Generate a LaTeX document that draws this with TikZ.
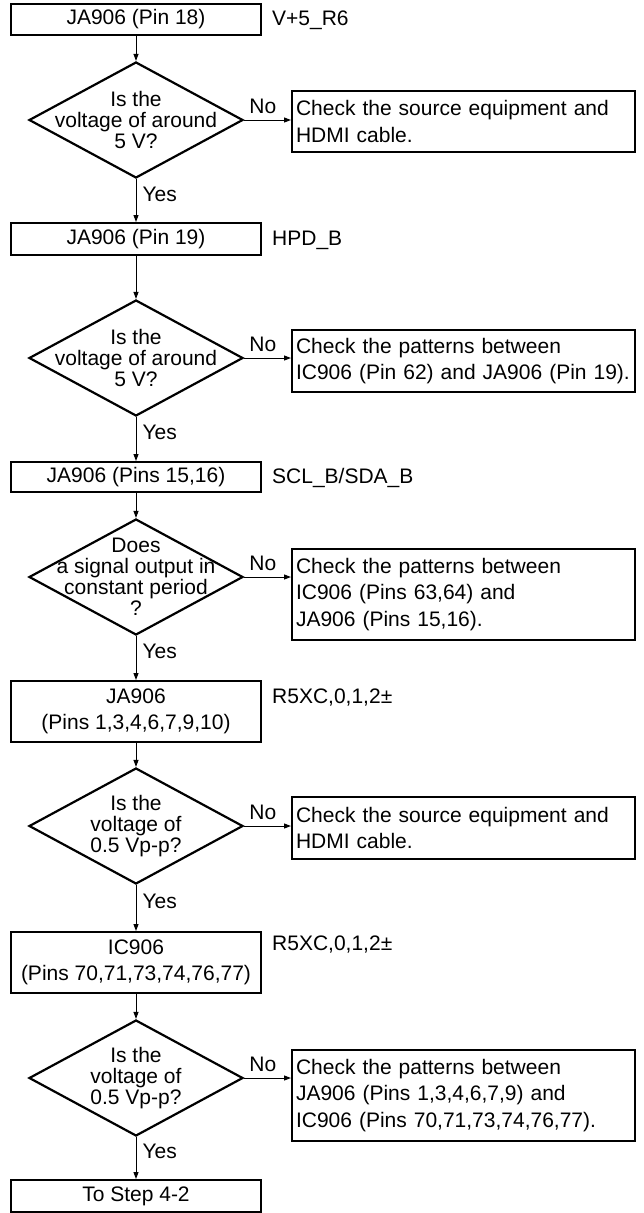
\documentclass[tikz,border=0pt]{standalone}
\usepackage{fontspec}
\setmainfont{Liberation Sans}
\usetikzlibrary{shapes.geometric,arrows.meta}
\begin{document}
\begin{tikzpicture}[x=1pt,y=-1pt,
  font=\fontsize{21}{26.5}\selectfont,
  mainbox/.style={draw,line width=2pt,minimum width=250pt,inner sep=0pt,align=center},
  dia/.style={draw,diamond,line width=2.2pt,minimum width=214pt,minimum height=116pt,inner sep=0pt},
  diatext/.style={align=center,font=\fontsize{21}{21}\selectfont,inner sep=0pt},
  checkbox/.style={draw,line width=2pt,minimum width=343pt,text width=335pt,inner xsep=4pt,inner ysep=0pt,align=left,anchor=north west},
  side/.style={anchor=west,inner sep=0pt},
  arr/.style={line width=1pt,-{Triangle[length=7pt,width=5pt]}},
  nolab/.style={above=6pt,inner sep=0pt,pos=0.4},
  yeslab/.style={right=6pt,inner sep=0pt,pos=0.35}
]
\useasboundingbox (0,0) rectangle (644,1213);

% main column boxes
\node[mainbox,minimum height=31pt] (b1) at (136,19.5) {JA906 (Pin 18)};
\node[mainbox,minimum height=32pt] (b2) at (136,239) {JA906 (Pin 19)};
\node[mainbox,minimum height=30pt] (b3) at (136,477) {JA906 (Pins 15,16)};
\node[mainbox,minimum height=61pt] (b4) at (136,711.5) {JA906\\(Pins 1,3,4,6,7,9,10)};
\node[mainbox,minimum height=61pt] (b5) at (136,962.5) {IC906\\(Pins 70,71,73,74,76,77)};
\node[mainbox,minimum height=32pt] (b6) at (136,1196) {To Step 4-2};

% side labels
\node[side] (s1) at (272,20) {V+5\textunderscore R6};
\node[side] (s2) at (272,240) {HPD\textunderscore B};
\node[side] (s3) at (272,478) {SCL\textunderscore B/SDA\textunderscore B};
\node[side] (s4) at (272,698) {R5XC,0,1,2±};
\node[side] (s5) at (272,944) {R5XC,0,1,2±};

% diamonds
\node[dia] (d1) at (136,120) {};
\node[diatext] (t1) at (d1.center) {Is the\\voltage of around\\5 V?};
\node[dia] (d2) at (136,358) {};
\node[diatext] (t2) at (d2.center) {Is the\\voltage of around\\5 V?};
\node[dia] (d3) at (136,577) {};
\node[diatext] (t3) at (d3.center) {Does\\a signal output in\\constant period\\?};
\node[dia] (d4) at (136,826) {};
\node[diatext] (t4) at (d4.center) {Is the\\voltage of\\0.5 Vp-p?};
\node[dia] (d5) at (136,1078) {};
\node[diatext] (t5) at (d5.center) {Is the\\voltage of\\0.5 Vp-p?};

% check boxes
\node[checkbox,minimum height=61pt] (c1) at (291,90) {\mbox{Check the source equipment and}\\HDMI cable.};
\node[checkbox,minimum height=62pt] (c2) at (291,329) {Check the patterns between\\\mbox{IC906 (Pin 62) and JA906 (Pin 19).}};
\node[checkbox,minimum height=91pt] (c3) at (291,548) {Check the patterns between\\IC906 (Pins 63,64) and\\JA906 (Pins 15,16).};
\node[checkbox,minimum height=62pt] (c4) at (291,796) {\mbox{Check the source equipment and}\\HDMI cable.};
\node[checkbox,minimum height=91pt] (c5) at (291,1049) {Check the patterns between\\\mbox{JA906 (Pins 1,3,4,6,7,9) and}\\\mbox{IC906 (Pins 70,71,73,74,76,77).}};

% vertical connectors
\draw[arr] (b1) -- (d1);
\draw[arr] (d1) -- node[yeslab] {Yes} (b2);
\draw[arr] (b2) -- (d2);
\draw[arr] (d2) -- node[yeslab] {Yes} (b3);
\draw[arr] (b3) -- (d3);
\draw[arr] (d3) -- node[yeslab] {Yes} (b4);
\draw[arr] (b4) -- (d4);
\draw[arr] (d4) -- node[yeslab] {Yes} (b5);
\draw[arr] (b5) -- (d5);
\draw[arr] (d5) -- node[yeslab] {Yes} (b6);

% No connectors
\draw[arr] (d1.east) -- node[nolab] {No} (d1.east -| c1.west);
\draw[arr] (d2.east) -- node[nolab] {No} (d2.east -| c2.west);
\draw[arr] (d3.east) -- node[nolab] {No} (d3.east -| c3.west);
\draw[arr] (d4.east) -- node[nolab] {No} (d4.east -| c4.west);
\draw[arr] (d5.east) -- node[nolab] {No} (d5.east -| c5.west);
\end{tikzpicture}
\end{document}
